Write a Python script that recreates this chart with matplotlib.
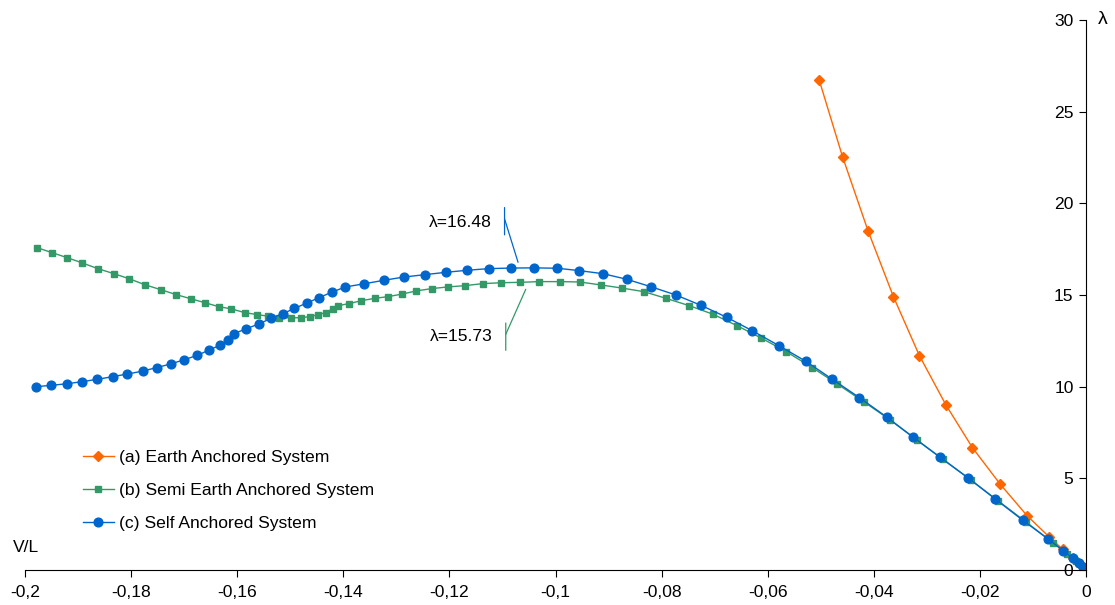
import numpy as np
import matplotlib
matplotlib.use("Agg")
import matplotlib.pyplot as plt
from matplotlib.transforms import offset_copy

plt.rcParams['font.family'] = ['Liberation Sans', 'DejaVu Sans']

# (a) Earth anchored system
vl_a = [-0.0503, -0.0459, -0.0411, -0.0363, -0.0314, -0.0264, -0.0214, -0.0162,
        -0.0111, -0.0070, -0.0044, -0.0025, -0.0012, 0.0]
lam_a = [26.73, 22.55, 18.51, 14.91, 11.69, 9.00, 6.67, 4.69,
         2.96, 1.82, 1.13, 0.67, 0.32, 0.0]

# (b) Semi earth anchored system
vl_b = [-0.1977, -0.1949, -0.1921, -0.1893, -0.1863, -0.1832, -0.1804, -0.1774,
        -0.1744, -0.1715, -0.1688, -0.1661, -0.1634, -0.1612, -0.1586, -0.1562,
        -0.1541, -0.1521, -0.1499, -0.1480, -0.1463, -0.1447, -0.1433, -0.1420,
        -0.1410, -0.1389, -0.1366, -0.1340, -0.1316, -0.1289, -0.1263, -0.1233,
        -0.1203, -0.1171, -0.1137, -0.1102, -0.1067, -0.1031, -0.0992, -0.0954,
        -0.0915, -0.0875, -0.0833, -0.0792, -0.0748, -0.0703, -0.0658, -0.0612,
        -0.0565, -0.0516, -0.0469, -0.0418, -0.0369, -0.0319, -0.0270, -0.0217,
        -0.0166, -0.0114, -0.0063, -0.0036, -0.0019, -0.0008, 0.0]
lam_b = [17.58, 17.31, 17.04, 16.76, 16.44, 16.16, 15.89, 15.56,
         15.29, 15.02, 14.80, 14.58, 14.36, 14.25, 14.04, 13.93,
         13.84, 13.76, 13.76, 13.76, 13.82, 13.93, 14.04, 14.25,
         14.42, 14.53, 14.69, 14.82, 14.91, 15.05, 15.22, 15.35,
         15.44, 15.51, 15.62, 15.67, 15.69, 15.73, 15.73, 15.71,
         15.55, 15.38, 15.18, 14.82, 14.42, 13.95, 13.33, 12.65,
         11.91, 11.04, 10.15, 9.16, 8.18, 7.09, 6.04, 4.91,
         3.78, 2.64, 1.49, 0.90, 0.50, 0.20, 0.0]

# (c) Self anchored system
vl_c = [-0.1980, -0.1951, -0.1921, -0.1893, -0.1864, -0.1834, -0.1807, -0.1778,
        -0.1752, -0.1725, -0.1700, -0.1675, -0.1653, -0.1633, -0.1617, -0.1606,
        -0.1583, -0.1559, -0.1536, -0.1514, -0.1492, -0.1469, -0.1446, -0.1422,
        -0.1396, -0.1361, -0.1324, -0.1286, -0.1246, -0.1206, -0.1166, -0.1125,
        -0.1083, -0.1041, -0.0997, -0.0955, -0.0910, -0.0866, -0.0820, -0.0773,
        -0.0726, -0.0677, -0.0629, -0.0579, -0.0528, -0.0479, -0.0427, -0.0376,
        -0.0326, -0.0275, -0.0223, -0.0171, -0.0119, -0.0072, -0.0043, -0.0025,
        -0.0013, -0.0005, 0.0]
lam_c = [10.00, 10.07, 10.16, 10.27, 10.40, 10.55, 10.69, 10.85,
         11.04, 11.24, 11.47, 11.71, 12.00, 12.25, 12.56, 12.89,
         13.16, 13.42, 13.73, 13.98, 14.27, 14.56, 14.85, 15.15,
         15.44, 15.61, 15.80, 15.98, 16.11, 16.24, 16.35, 16.44,
         16.47, 16.48, 16.46, 16.33, 16.16, 15.86, 15.45, 15.00,
         14.44, 13.78, 13.05, 12.24, 11.38, 10.42, 9.40, 8.35,
         7.25, 6.15, 5.04, 3.87, 2.71, 1.71, 1.05, 0.65,
         0.37, 0.16, 0.0]

# local maxima that get a callout
peak_c = 16.48
peak_b = 15.73

x_ticks = [-0.2, -0.18, -0.16, -0.14, -0.12, -0.1, -0.08, -0.06, -0.04, -0.02, 0.0]
x_labels = ['-0,2', '-0,18', '-0,16', '-0,14', '-0,12', '-0,1', '-0,08',
            '-0,06', '-0,04', '-0,02', '0']
y_ticks = [0, 5, 10, 15, 20, 25, 30]

labels = ['(a) Earth Anchored System', '(b) Semi Earth Anchored System',
          '(c) Self Anchored System']

orange = '#FF6600'
green = '#339966'
blue = '#0066CC'
fs = 12.6

fig = plt.figure(figsize=(11.15, 6.05), dpi=100)
ax = fig.add_axes([25 / 1115, 35 / 605, 1061 / 1115, 550 / 605])

ax.plot(vl_a, lam_a, color=orange, lw=1.0, marker='D', ms=5.5, label=labels[0])
ax.plot(vl_b, lam_b, color=green, lw=1.0, marker='s', ms=4.8, label=labels[1])
ax.plot(vl_c, lam_c, color=blue, lw=1.0, marker='o', ms=6.3, label=labels[2])

ax.set_xlim(-0.2, 0)
ax.set_ylim(0, 30)
ax.set_xticks(x_ticks)
ax.set_xticklabels(x_labels)
ax.set_yticks(y_ticks)

for s in ['top', 'right']:
    ax.spines[s].set_visible(False)
ax.spines['left'].set_position(('axes', 1.0))
ax.tick_params(axis='x', direction='out', length=5, pad=6, labelsize=fs)
ax.tick_params(axis='y', direction='out', length=5, pad=4, labelsize=fs)

ax.text(-12 / 1061, 23 / 550, 'V/L', transform=ax.transAxes, fontsize=fs,
        ha='left', va='center')
ax.text(1 + 17 / 1061, 1.0, 'λ', transform=ax.transAxes, fontsize=14,
        ha='center', va='center')


def callout(x0, y0, text, color, end, joint, bar, text_off):
    """leader line from the marked point to a short vertical bar, text beside it"""
    def off(dx, dy):
        return offset_copy(ax.transData, fig=fig, x=dx, y=dy, units='dots')
    ax.annotate('', xy=(x0, y0), xycoords=off(*end), xytext=(x0, y0),
                textcoords=off(*joint),
                arrowprops=dict(arrowstyle='-', color=color, lw=0.9,
                                shrinkA=0, shrinkB=0))
    ax.annotate('', xy=(x0, y0), xycoords=off(joint[0], bar[0]), xytext=(x0, y0),
                textcoords=off(joint[0], bar[1]),
                arrowprops=dict(arrowstyle='-', color=color, lw=0.9,
                                shrinkA=0, shrinkB=0))
    ax.annotate(text, xy=(x0, y0), xytext=text_off, textcoords='offset pixels',
                ha='right', va='center', fontsize=fs)


ic = lam_c.index(peak_c)
callout(vl_c[ic], lam_c[ic], f'λ={peak_c:.2f}', blue,
        end=(-15.7, 5.6), joint=(-29.2, 49), bar=(33, 60.3), text_off=(-42, 45))
ib = lam_b.index(peak_b)
callout(vl_b[ib], lam_b[ib], f'λ={peak_b:.2f}', green,
        end=(-13.3, -7.7), joint=(-33.3, -52.7), bar=(-41.4, -68.7), text_off=(-46, -55))

ax.legend(loc='upper left', bbox_to_anchor=(83 / 1115, 1 - 450 / 605),
          bbox_transform=fig.transFigure, frameon=False, fontsize=fs,
          handlelength=1.75, handletextpad=0.3, labelspacing=1.02, borderpad=0,
          borderaxespad=0)

fig.savefig('out.png', dpi=100)
plt.close(fig)
